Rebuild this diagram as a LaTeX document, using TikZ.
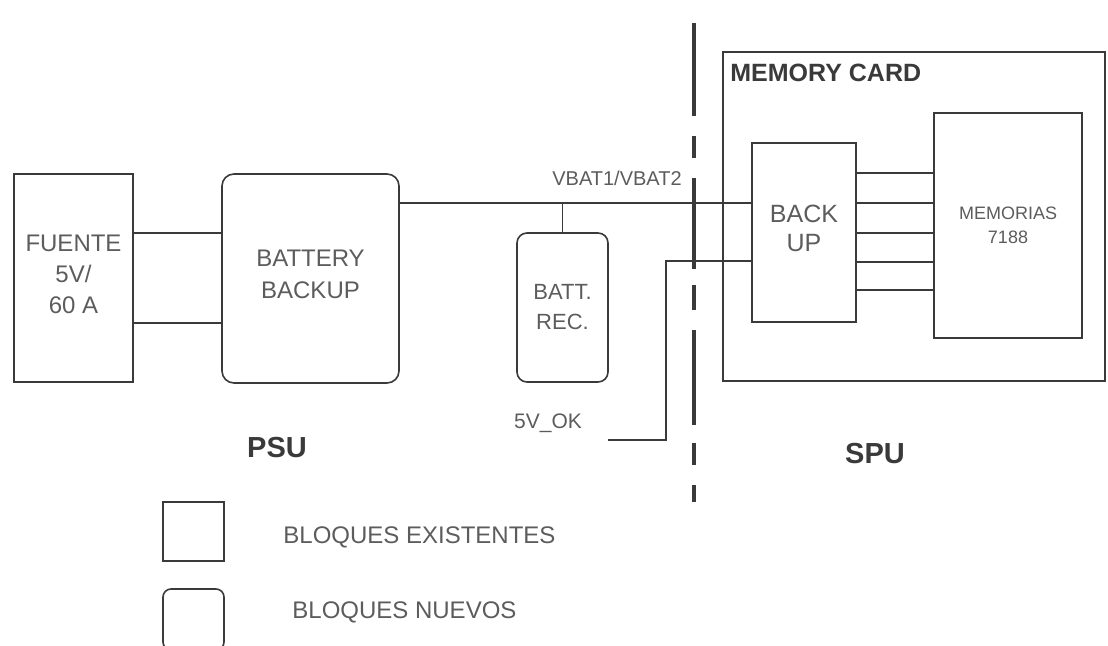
\documentclass[tikz,border=0pt]{standalone}
\usepackage{fontspec}
\setmainfont{Liberation Sans}
\usetikzlibrary{positioning}
\definecolor{ink}{HTML}{3A3A3A}
\definecolor{txt}{HTML}{5C5C5C}
\tikzset{
  box/.style={rectangle,draw=ink,line width=0.8pt,align=center,inner sep=2pt,outer sep=0pt,text=txt,font=\fontsize{12}{16}\selectfont},
  rbox/.style={box,rounded corners=6pt},
  line/.style={draw=ink,line width=0.7pt},
  divider/.style={draw=ink,line width=1.6pt,dash pattern=on 46.5pt off 10pt on 11pt off 10pt on 45.5pt off 8pt on 12.5pt off 10pt on 47.5pt off 9pt on 11pt off 10pt on 8.5pt off 50pt},
  tag/.style={text=txt,inner sep=0pt,font=\fontsize{10}{12}\selectfont},
  legtext/.style={text=txt,inner sep=0pt,anchor=west,font=\fontsize{12}{14}\selectfont},
  heading/.style={text=ink,inner sep=0pt,font=\bfseries\fontsize{14.5}{17}\selectfont}
}

\begin{document}
\begin{tikzpicture}[x=0.5pt,y=-0.5pt]
\useasboundingbox (0,0) rectangle (1108,646);
% PSU side
\node[box,minimum width=59.5pt,minimum height=104pt,font=\fontsize{12}{15.5}\selectfont] (fuente) at (73.5,278) {FUENTE\\5V/\\60 A\\[-11.5pt]};
\node[rbox,minimum width=88.5pt,minimum height=104.5pt] (battbk) at (310.5,278.5) {BATTERY\\BACKUP\\[-12pt]};
\node[rbox,rounded corners=5pt,minimum width=45.5pt,minimum height=74.5pt,font=\fontsize{11}{15}\selectfont] (battrec) at (562.5,307.5) {BATT.\\REC.};
\node[heading] (psu) at (277,448) {PSU};
% SPU side
\node[box,minimum width=191pt,minimum height=164.5pt] (memcard) at (914,216.5) {};
\node[heading,anchor=west,font=\bfseries\fontsize{12.5}{15}\selectfont] (mclabel) at (730,73) {MEMORY CARD};
\node[box,minimum width=52pt,minimum height=89.5pt,font=\fontsize{12.5}{14.5}\selectfont] (backup) at (804,232.5) {BACK\\UP\\[-10.5pt]};
\node[box,minimum width=74pt,minimum height=112.5pt,font=\fontsize{9}{12}\selectfont] (mem) at (1008,225.5) {MEMORIAS\\7188};
\node[heading] (spu) at (875,454) {SPU};
% signal labels
\node[tag] (vbat) at (617,178) {VBAT1/VBAT2};
\node[tag,font=\fontsize{10.5}{12}\selectfont] (okl) at (548,423) {5V\_OK};
\coordinate (oks) at (608,440);
\coordinate (bend) at (666,261);
% connections
\draw[line] (fuente.east |- 0,233) -- (battbk.west |- 0,233);
\draw[line] (fuente.east |- 0,323) -- (battbk.west |- 0,323);
\draw[line] (battbk.east |- 0,203) -- (backup.west |- 0,203);
\draw[line] (battrec.north) -- (battrec.north |- 0,203);
\draw[line] (oks) -| (bend) -- (backup.west |- bend);
\foreach \y in {173,203,233,262,290}
  \draw[line] (backup.east |- 0,\y) -- (mem.west |- 0,\y);
% PSU / SPU boundary
\draw[divider] (694,23) -- (694,502);
% legend
\node[box,minimum width=30.5pt,minimum height=29.5pt] (legold) at (193.5,531.5) {};
\node[rbox,rounded corners=4pt,minimum width=30.5pt,minimum height=30.5pt] (legnew) at (193.5,619.5) {};
\node[legtext] (oldtext) at (283,537) {BLOQUES EXISTENTES};
\node[legtext] (newtext) at (292,612) {BLOQUES NUEVOS};
\end{tikzpicture}
\end{document}
